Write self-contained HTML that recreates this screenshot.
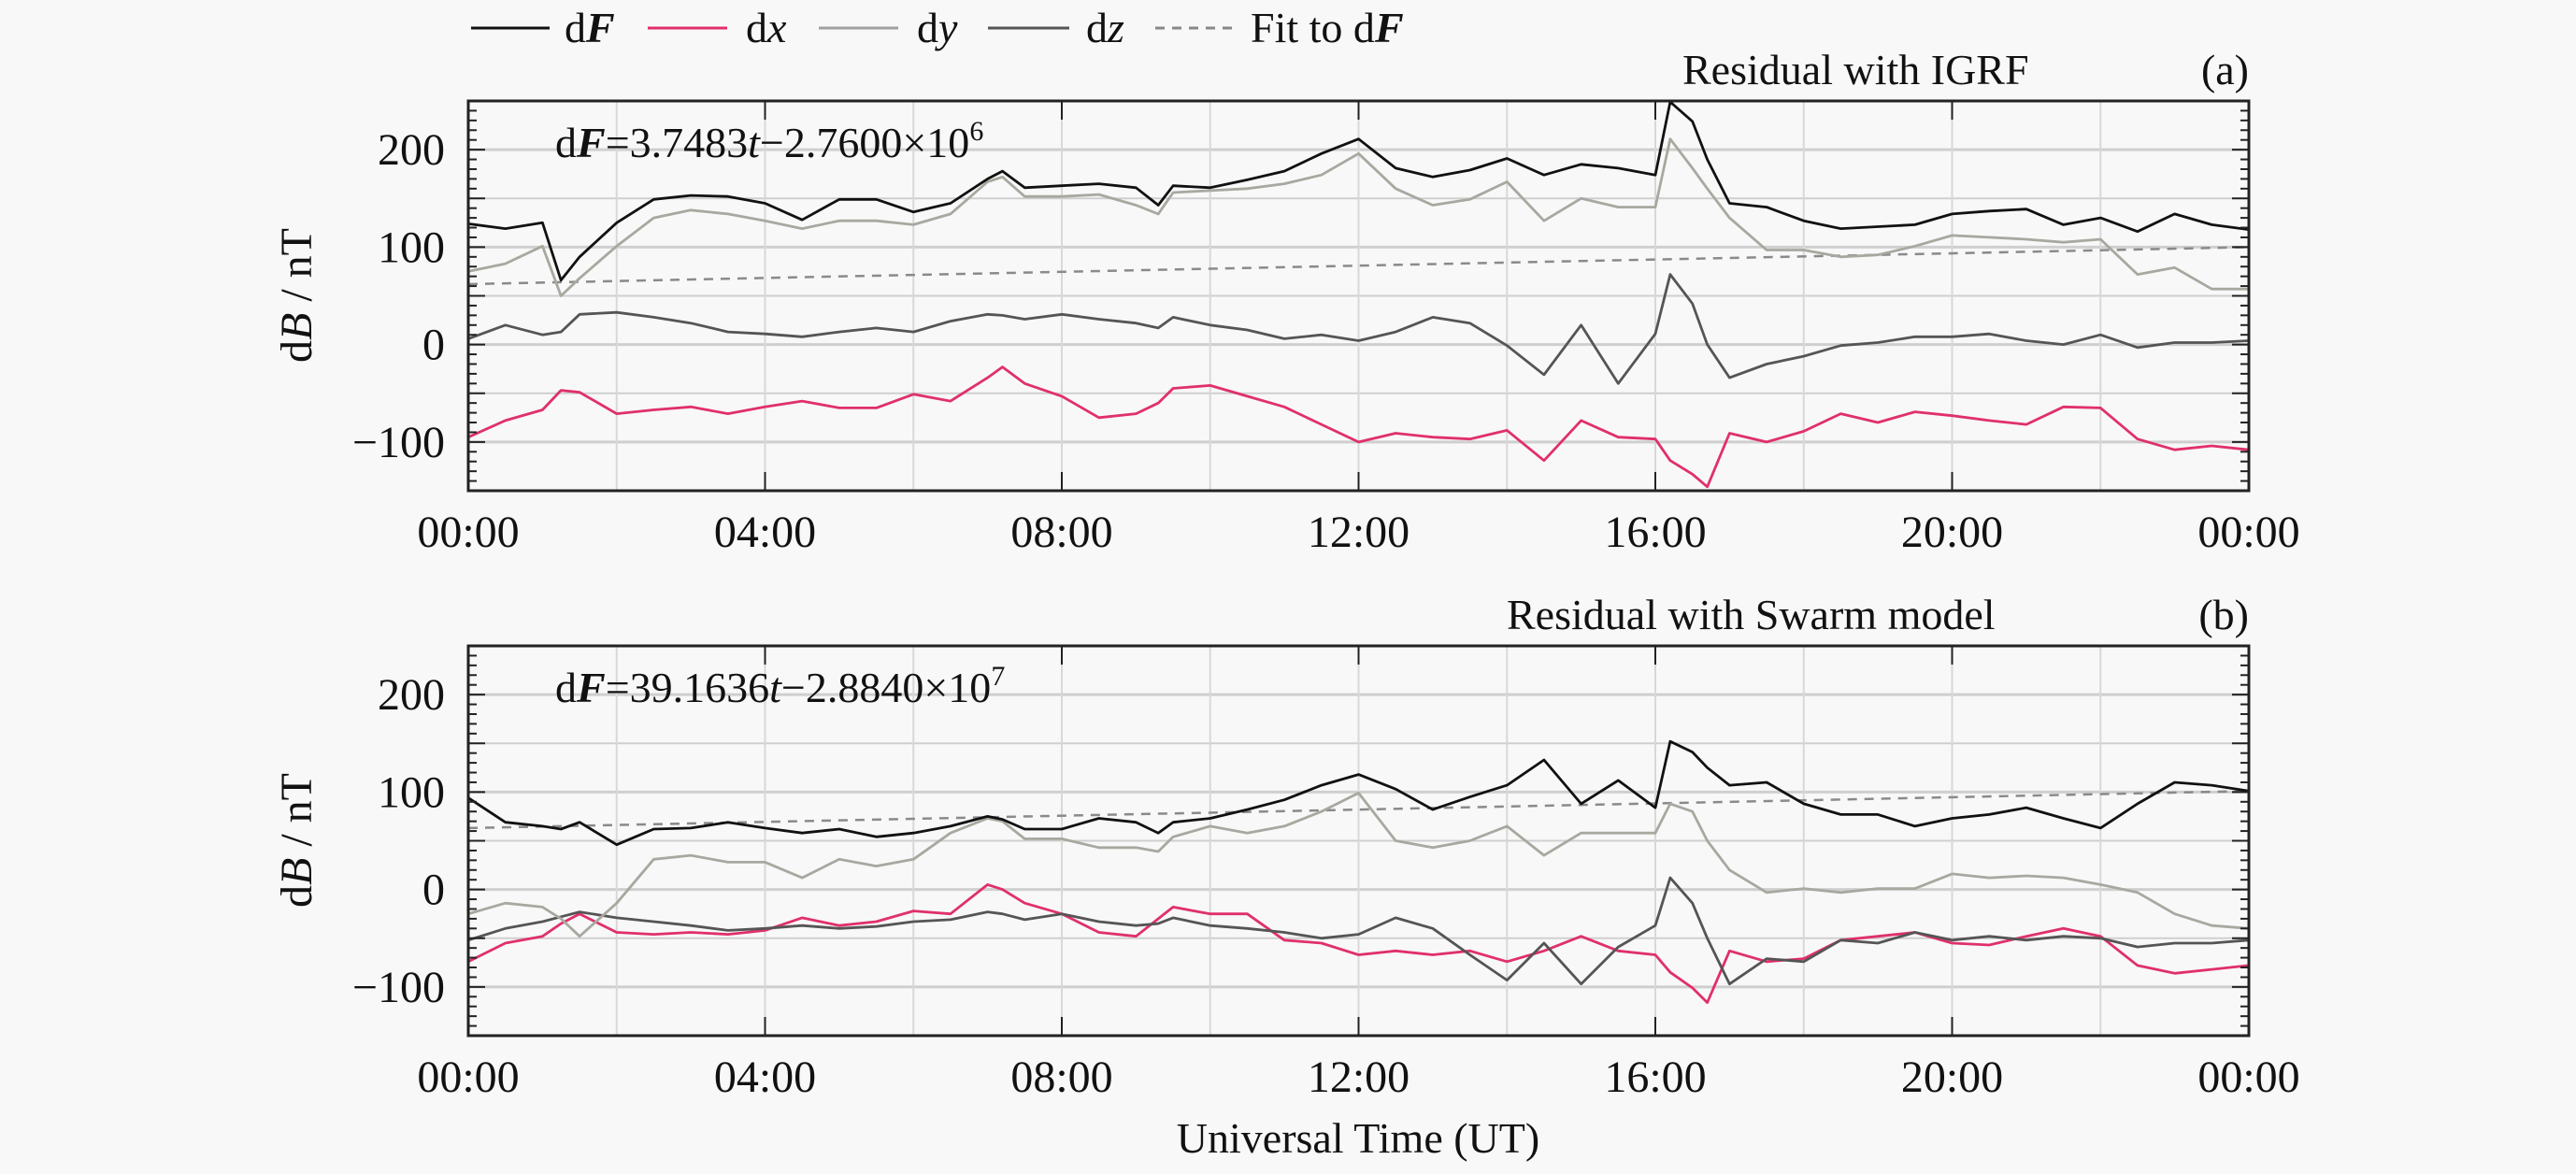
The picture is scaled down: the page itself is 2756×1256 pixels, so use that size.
<!DOCTYPE html>
<html><head><meta charset="utf-8">
<style>
html,body{margin:0;padding:0;background:#f8f8f8;}
svg{display:block;font-family:"Liberation Serif",serif;}
</style></head>
<body>
<svg id="chart" width="2756" height="1256" viewBox="0 0 2756 1256" xmlns="http://www.w3.org/2000/svg">
<rect width="2756" height="1256" fill="#f8f8f8"/>
<g font-size="46" fill="#111">
  <g><line x1="504" y1="30" x2="588" y2="30" stroke="#111" stroke-width="3"/><text x="604" y="45">d<tspan font-weight="bold" font-style="italic">F</tspan></text></g>
  <g><line x1="693" y1="30" x2="778" y2="30" stroke="#e0306a" stroke-width="3"/><text x="798" y="45">d<tspan font-style="italic">x</tspan></text></g>
  <g><line x1="876" y1="30" x2="961" y2="30" stroke="#a0a0a0" stroke-width="3"/><text x="981" y="45">d<tspan font-style="italic">y</tspan></text></g>
  <g><line x1="1057" y1="30" x2="1144" y2="30" stroke="#555" stroke-width="3"/><text x="1162" y="45">d<tspan font-style="italic">z</tspan></text></g>
  <g><line x1="1236" y1="30" x2="1318" y2="30" stroke="#888" stroke-width="3" stroke-dasharray="10,8"/><text x="1338" y="45">Fit to d<tspan font-weight="bold" font-style="italic">F</tspan></text></g>
</g>
<g id="panels"></g>
<text x="1453" y="1233" font-size="46" text-anchor="middle" fill="#111">Universal Time (UT)</text>
</svg>
<script>
const times = [0,0.5,1,1.25,1.5,2,2.5,3,3.5,4,4.5,5,5.5,6,6.5,7,7.2,7.5,8,8.5,9,9.3,9.5,10,10.5,11,11.5,12,12.5,13,13.5,14,14.5,15,15.5,16,16.2,16.5,16.7,17,17.5,18,18.5,19,19.5,20,20.5,21,21.5,22,22.5,23,23.5,24];
const aDF = [124,119,125,66,90,125,149,153,152,145,128,149,149,136,145,170,178,161,163,165,161,143,163,161,169,178,196,211,181,172,179,191,174,185,181,174,249,229,190,145,141,127,119,121,123,134,137,139,123,130,116,134,123,118];
const aDX = [-95,-78,-67,-47,-49,-71,-67,-64,-71,-64,-58,-65,-65,-51,-58,-34,-23,-40,-53,-75,-71,-60,-45,-42,-53,-64,-82,-100,-91,-95,-97,-88,-119,-78,-95,-97,-119,-133,-146,-91,-100,-89,-71,-80,-69,-73,-78,-82,-64,-65,-97,-108,-104,-108];
const aDY = [75,83,101,50,68,101,130,138,134,127,119,127,127,123,134,167,172,152,152,154,143,134,156,158,160,165,174,196,160,143,149,167,127,150,141,141,211,181,160,130,97,97,90,92,101,112,110,108,105,108,72,79,57,57];
const aDZ = [6,20,10,13,31,33,28,22,13,11,8,13,17,13,24,31,30,26,31,26,22,17,28,20,15,6,10,4,13,28,22,-1,-31,20,-40,11,72,42,0,-34,-20,-12,-1,2,8,8,11,4,0,10,-3,2,2,4];
const aFit = [62,100];
const bDF = [94,69,65,62,69,46,62,63,69,63,58,62,54,58,65,75,72,62,62,73,69,58,69,73,82,92,107,118,103,82,95,107,133,88,112,84,152,141,125,107,110,88,77,77,65,73,77,84,73,63,88,110,107,101];
const bDX = [-74,-55,-48,-35,-25,-44,-46,-44,-46,-42,-29,-37,-33,-22,-25,5,0,-14,-25,-44,-48,-30,-18,-25,-25,-52,-55,-67,-63,-67,-63,-74,-63,-48,-63,-67,-85,-101,-116,-63,-74,-71,-52,-48,-44,-55,-57,-48,-40,-48,-78,-86,-82,-78];
const bDY = [-25,-14,-18,-30,-48,-14,31,35,28,28,12,31,24,31,58,73,70,52,52,43,43,39,54,65,58,65,80,99,50,43,50,65,35,58,58,58,88,80,50,20,-3,1,-3,1,1,16,12,14,12,5,-3,-25,-37,-40];
const bDZ = [-52,-40,-33,-28,-23,-29,-33,-37,-42,-40,-37,-40,-38,-33,-31,-23,-25,-31,-25,-33,-37,-35,-29,-37,-40,-44,-50,-46,-29,-40,-67,-93,-55,-97,-59,-37,12,-14,-50,-97,-71,-74,-52,-55,-44,-52,-48,-52,-48,-50,-59,-55,-55,-52];
const bFit = [63,101];
const fitTimes = [0,24];
const yTicks = [-100,0,100,200];
const xTickLabels = ["00:00","04:00","08:00","12:00","16:00","20:00","00:00"];

const NS="http://www.w3.org/2000/svg";
const root=document.getElementById('panels');
function mk(tag,attrs,parent){const e=document.createElementNS(NS,tag);for(const k in attrs)e.setAttribute(k,attrs[k]);parent.appendChild(e);return e;}

function panel(p){
  const L=501,R=2406,T=p.top,B=p.top+417,yMin=-150,yMax=250;
  const xs=h=>L+(R-L)*h/24;
  const ys=v=>B-(B-T)*(v-yMin)/(yMax-yMin);
  const g=mk('g',{},root);
  
  
  // grid
  for(let v=-100;v<=200;v+=50){const l=mk('line',{x1:L,x2:R,y1:ys(v),y2:ys(v),stroke:'#cfcfcf','stroke-width':v%100===0?3:2},g);}
  for(let h=2;h<24;h+=2){const l=mk('line',{x1:xs(h),x2:xs(h),y1:T,y2:B,stroke:'#d8d8d8','stroke-width':2},g);}
  // fit
  const fp=fitTimes.map((t,i)=>xs(t).toFixed(1)+','+ys(p.fit[i]).toFixed(1)).join(' ');
  const fl=mk('polyline',{points:fp,fill:'none',stroke:'#8a8a8a','stroke-width':2.5,'stroke-dasharray':'10,8'},g);
  
  
  const series=[['dx-series',p.dx,'#e0306a'],['dz-series',p.dz,'#555'],['dy-series',p.dy,'#a8a8a0'],['df-series',p.df,'#111']];
  series.forEach(s=>{
    const pts=times.map((t,i)=>xs(t).toFixed(1)+','+ys(s[1][i]).toFixed(1)).join(' ');
    const pl=mk('polyline',{points:pts,fill:'none',stroke:s[2],'stroke-width':2.8,'stroke-linejoin':'round'},g);
    
    
  });
  // frame
  const fr=mk('rect',{x:L,y:T,width:R-L,height:B-T,fill:'none',stroke:'#222','stroke-width':3},g);
  
  
  // y ticks
  for(let v=-150;v<=250;v+=10){const len=v%50===0?18:9;mk('line',{x1:L,x2:L+len,y1:ys(v),y2:ys(v),stroke:'#222','stroke-width':2},g);mk('line',{x1:R,x2:R-len,y1:ys(v),y2:ys(v),stroke:'#222','stroke-width':2},g);}
  for(let h=4;h<24;h+=4){mk('line',{x1:xs(h),x2:xs(h),y1:T,y2:T+20,stroke:'#222','stroke-width':2},g);mk('line',{x1:xs(h),x2:xs(h),y1:B,y2:B-20,stroke:'#222','stroke-width':2},g);}
  yTicks.forEach(v=>{const t=mk('text',{x:476,y:ys(v)+16,'font-size':48,'text-anchor':'end',fill:'#111'},g);t.textContent=(v<0?'\u2212':'')+Math.abs(v);});
  xTickLabels.forEach((s,i)=>{const t=mk('text',{x:xs(i*4),y:B+60,'font-size':48,'text-anchor':'middle',fill:'#111'},g);t.textContent=s;});
  const yl=mk('text',{x:0,y:0,'font-size':48,'text-anchor':'middle',fill:'#111',transform:`translate(333,${T+208}) rotate(-90)`},g);
  yl.innerHTML='d<tspan font-style="italic">B</tspan> / nT';
  
  
  const ti=mk('text',{x:p.titleX,y:T-18,'font-size':46,fill:'#111'},g);
  ti.textContent=p.title;
  
  
  const lb=mk('text',{x:R,y:T-18,'font-size':46,'text-anchor':'end',fill:'#111'},g);
  lb.textContent=p.label;
  
  
  const eq=mk('text',{x:594,y:T+60,'font-size':46,fill:'#111'},g);
  eq.innerHTML='d<tspan font-weight="bold" font-style="italic">F</tspan>=' + p.eq + '<tspan font-size="30" dy="-18">' + p.exp + '</tspan>';
  
  
}
panel({name:'panel-a-igrf',top:108,df:aDF,dx:aDX,dy:aDY,dz:aDZ,fit:aFit,title:'Residual with IGRF',titleX:1800,label:'(a)',eq:'3.7483<tspan font-style="italic">t</tspan>\u22122.7600\u00d710',exp:'6'});
panel({name:'panel-b-swarm',top:691,df:bDF,dx:bDX,dy:bDY,dz:bDZ,fit:bFit,title:'Residual with Swarm model',titleX:1612,label:'(b)',eq:'39.1636<tspan font-style="italic">t</tspan>\u22122.8840\u00d710',exp:'7'});
</script>
</body></html>
